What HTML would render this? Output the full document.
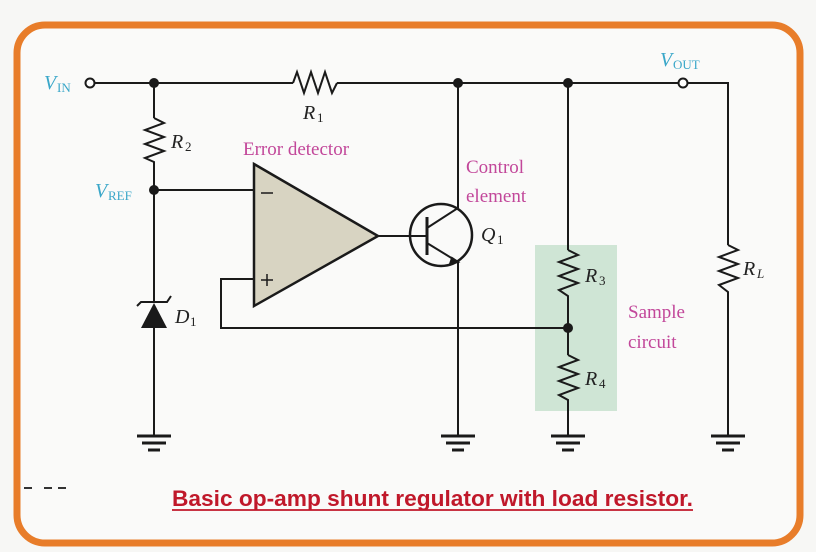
<!DOCTYPE html>
<html><head><meta charset="utf-8"><style>
html,body{margin:0;padding:0;background:#f7f7f5;}
svg{display:block;}
.it{font-family:"Liberation Serif",serif;font-style:italic;}
.rm{font-family:"Liberation Serif",serif;}
</style></head><body>
<svg width="816" height="552" viewBox="0 0 816 552" xmlns="http://www.w3.org/2000/svg">
<rect x="0" y="0" width="816" height="552" fill="#f7f7f5"/>
<rect x="17" y="25" width="783" height="518" rx="28" fill="#fafaf9" stroke="#e87d2a" stroke-width="7"/>
<rect x="535" y="245" width="82" height="166" fill="#cfe5d5"/>
<g stroke="#1a1a1a" stroke-width="2" fill="none">
<line x1="94" y1="83" x2="293" y2="83"/>
<polyline points="293,83 297,72 304,93 311,72 318,93 325,72 332,93 337,83"/>
<line x1="337" y1="83" x2="678" y2="83"/>
<polyline points="688,83 728,83 728,245"/>
<polyline points="728,245 738,250 719,257 738,264 719,271 738,278 719,285 728,292 728,436"/>
<line x1="154" y1="83" x2="154" y2="118"/>
<polyline points="154,118 164,123 145,130 164,137 145,144 164,151 145,158 154,162 154,302"/>
<line x1="154" y1="328" x2="154" y2="436"/>
<line x1="154" y1="190" x2="254" y2="190"/>
<polyline points="137,306 141,302 167,302 171,296"/>
<polygon points="254,164 378,236 254,306" fill="#d8d4c2" stroke-width="2.5"/>
<polyline points="254,279 221,279 221,328 568,328"/>
<line x1="378" y1="236" x2="427" y2="236"/>
<circle cx="441" cy="235" r="31" stroke-width="2.5"/>
<line x1="427" y1="217" x2="427" y2="255" stroke-width="3"/>
<polyline points="427,228 458,208 458,83"/>
<polyline points="427,243 458,262 458,436"/>
<line x1="568" y1="83" x2="568" y2="250"/>
<polyline points="568,250 578,255 559,262 578,269 559,276 578,283 559,290 568,296 568,355"/>
<polyline points="568,355 578,360 559,367 578,374 559,381 578,388 559,395 568,400 568,436"/>
</g>
<polygon points="141,328 167,328 154,303" fill="#1a1a1a"/>
<polygon points="452,258 458,262 450,264" fill="#1a1a1a" stroke="#1a1a1a" stroke-width="2"/>
<g fill="#1a1a1a">
<circle cx="154" cy="83" r="5"/><circle cx="458" cy="83" r="5"/><circle cx="568" cy="83" r="5"/>
<circle cx="154" cy="190" r="5"/><circle cx="568" cy="328" r="5"/>
</g>
<circle cx="90" cy="83" r="4.5" fill="#fff" stroke="#1a1a1a" stroke-width="2"/>
<circle cx="683" cy="83" r="4.5" fill="#fff" stroke="#1a1a1a" stroke-width="2"/>
<g stroke="#1a1a1a" stroke-width="3">
<g id="gnd"><line x1="137" y1="436" x2="171" y2="436"/><line x1="142" y1="443" x2="166" y2="443"/><line x1="148" y1="450" x2="160" y2="450"/></g>
<use href="#gnd" x="304"/><use href="#gnd" x="414"/><use href="#gnd" x="574"/>
</g>
<g stroke="#1a1a1a" stroke-width="1.5">
<line x1="261" y1="193" x2="273" y2="193"/>
<line x1="261" y1="280" x2="273" y2="280"/><line x1="267" y1="274" x2="267" y2="286"/>
</g>
<g fill="#3aa7c9" font-size="20">
<text x="44" y="89" class="it">V</text><text x="57" y="92" class="rm" font-size="13">IN</text>
<text x="95" y="197" class="it">V</text><text x="108" y="200" class="rm" font-size="13">REF</text>
<text x="660" y="66" class="it">V</text><text x="673" y="69" class="rm" font-size="13">OUT</text>
</g>
<g fill="#222" font-size="20">
<text x="303" y="119" class="it">R</text><text x="317" y="122" class="rm" font-size="13">1</text>
<text x="171" y="148" class="it">R</text><text x="185" y="151" class="rm" font-size="13">2</text>
<text x="175" y="323" class="it">D</text><text x="190" y="326" class="rm" font-size="13">1</text>
<text x="481" y="241" class="it">Q</text><text x="497" y="244" class="rm" font-size="13">1</text>
<text x="585" y="282" class="it">R</text><text x="599" y="285" class="rm" font-size="13">3</text>
<text x="585" y="385" class="it">R</text><text x="599" y="388" class="rm" font-size="13">4</text>
<text x="743" y="275" class="it">R</text><text x="757" y="278" class="it" font-size="13">L</text>
</g>
<g fill="#c2479a" font-size="19">
<text x="243" y="155" class="rm">Error detector</text>
<text x="466" y="173" class="rm">Control</text>
<text x="466" y="202" class="rm">element</text>
<text x="628" y="318" class="rm">Sample</text>
<text x="628" y="348" class="rm">circuit</text>
</g>
<text x="172" y="506" fill="#c0182a" font-family="Liberation Sans Narrow, Liberation Sans, sans-serif" font-weight="bold" font-size="22" textLength="521" lengthAdjust="spacingAndGlyphs">Basic op-amp shunt regulator with load resistor.</text>
<line x1="172" y1="510" x2="693" y2="510" stroke="#c0182a" stroke-width="1.8"/>
<g stroke="#333" stroke-width="2"><line x1="24" y1="488" x2="32" y2="488"/><line x1="44" y1="488" x2="52" y2="488"/><line x1="58" y1="488" x2="66" y2="488"/></g>
</svg>
</body></html>
